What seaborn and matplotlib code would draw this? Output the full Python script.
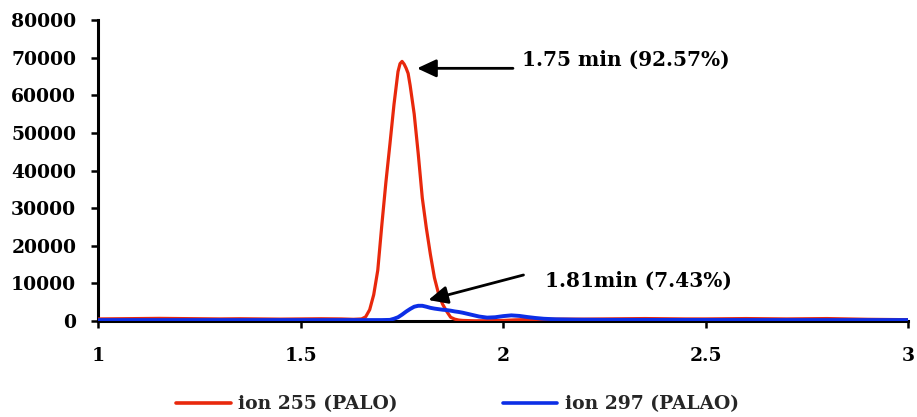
import matplotlib
matplotlib.use("Agg")
import matplotlib.pyplot as plt
import pandas as pd
import seaborn as sns

# Retention time (min) and abundance for the two monitored ions
time_255 = [1.00, 1.05, 1.10, 1.15, 1.20, 1.25, 1.30, 1.35, 1.40, 1.45, 1.50, 1.55, 1.60,
            1.63, 1.65, 1.66, 1.67, 1.68, 1.69, 1.70, 1.71, 1.72, 1.73, 1.74, 1.745, 1.75,
            1.755, 1.76, 1.765, 1.77, 1.78, 1.79, 1.80, 1.81, 1.82, 1.83, 1.84, 1.85, 1.86,
            1.87, 1.88, 1.89, 1.90, 1.93, 1.96, 2.00, 2.03, 2.06, 2.10, 2.15, 2.20, 2.25,
            2.30, 2.35, 2.40, 2.45, 2.50, 2.55, 2.60, 2.65, 2.70, 2.75, 2.80, 2.85, 2.90,
            2.95, 3.00]
ion_255 = [550, 600, 650, 700, 650, 600, 550, 600, 550, 500, 550, 600, 550,
           450, 550, 1100, 3000, 7000, 13500, 25500, 36800, 47000, 57500, 66300, 68400, 69000,
           68300, 67200, 65800, 62600, 55000, 44400, 32700, 24700, 17700, 11500, 7300, 4500, 2600,
           1000, 500, 250, 150, 50, 80, 150, 300, 400, 450, 500, 500, 550,
           600, 650, 600, 550, 550, 600, 650, 600, 550, 600, 650, 550, 450,
           400, 350]

time_297 = [1.00, 1.10, 1.20, 1.30, 1.40, 1.50, 1.60, 1.70, 1.72, 1.73, 1.74, 1.75, 1.76,
            1.77, 1.78, 1.79, 1.80, 1.81, 1.82, 1.83, 1.84, 1.85, 1.86, 1.87, 1.88, 1.89,
            1.90, 1.92, 1.94, 1.96, 1.98, 2.00, 2.02, 2.04, 2.06, 2.08, 2.10, 2.13, 2.18,
            2.25, 2.40, 2.60, 2.80, 3.00]
ion_297 = [250, 250, 250, 250, 250, 250, 250, 250, 300, 600, 1000, 1700, 2500,
           3200, 3800, 4050, 4050, 3800, 3500, 3300, 3150, 3000, 2900, 2750, 2550, 2400,
           2200, 1700, 1200, 900, 1000, 1300, 1500, 1350, 1050, 800, 600, 450, 350,
           300, 280, 260, 250, 250]

series_names = ["ion 255 (PALO)", "ion 297 (PALAO)"]
series_colors = ["#E8280C", "#0C2EE6"]
x_ticks = [1, 1.5, 2, 2.5, 3]
x_tick_labels = ["1", "1.5", "2", "2.5", "3"]
y_ticks = [0, 10000, 20000, 30000, 40000, 50000, 60000, 70000, 80000]

# Peak annotations: label, arrow tip (time, abundance), arrow tail, label anchor
peak_labels = ["1.75 min (92.57%)", "1.81min (7.43%)"]
arrow_tips = [(1.787, 67160), (1.815, 5580)]
arrow_tails = [(2.024, 67160), (2.050, 12230)]
label_anchors = [(2.046, 67800), (2.103, 9150)]

sns.set_style("ticks")
plt.rcParams["font.family"] = ["DejaVu Serif"]
plt.rcParams["font.weight"] = "bold"

df = pd.concat([
    pd.DataFrame({"time": time_255, "abundance": ion_255, "ion": series_names[0]}),
    pd.DataFrame({"time": time_297, "abundance": ion_297, "ion": series_names[1]}),
], ignore_index=True)

fig = plt.figure(figsize=(9.17, 4.17), dpi=100)
ax = fig.add_axes([0.1074, 0.2302, 0.8828, 0.7218])

sns.lineplot(data=df, x="time", y="abundance", hue="ion", hue_order=series_names,
             palette=dict(zip(series_names, series_colors)), estimator=None,
             linewidth=2.2, ax=ax)
for line, lw in zip(ax.lines, [2.3, 2.8]):
    line.set_linewidth(lw)
    line.set_zorder(3)
    line.set_solid_capstyle("round")

ax.set_xlim(1, 3)
ax.set_ylim(0, 80000)
ax.set_xticks(x_ticks)
ax.set_xticklabels(x_tick_labels)
ax.set_yticks(y_ticks)
ax.set_yticklabels([str(v) for v in y_ticks])
ax.set_xlabel("")
ax.set_ylabel("")

for side in ["top", "right"]:
    ax.spines[side].set_visible(False)
for side in ["left", "bottom"]:
    ax.spines[side].set_linewidth(2.2)
    ax.spines[side].set_color("black")
ax.tick_params(axis="both", colors="black", width=1.8, length=5, labelsize=13.5)
ax.tick_params(axis="y", pad=11)
ax.tick_params(axis="x", pad=14)
for lbl in ax.get_xticklabels() + ax.get_yticklabels():
    lbl.set_fontweight("bold")

for label, tip, tail, anchor in zip(peak_labels, arrow_tips, arrow_tails, label_anchors):
    ax.annotate("", xy=tip, xytext=tail,
                arrowprops=dict(arrowstyle="-|>,head_length=0.58,head_width=0.27",
                                lw=2, color="black", shrinkA=0, shrinkB=0,
                                mutation_scale=20))
    ax.text(anchor[0], anchor[1], label, ha="left", va="baseline",
            fontsize=14.5, fontweight="bold", color="black")

handles, labels = ax.get_legend_handles_labels()
if ax.get_legend() is not None:
    ax.get_legend().remove()
leg = fig.legend(handles, labels, loc="center", bbox_to_anchor=(0.499, 0.031),
                 ncol=2, frameon=False, fontsize=13.5, handlelength=2.9,
                 handletextpad=0.4, columnspacing=5.6, borderaxespad=0)
for t in leg.get_texts():
    t.set_fontweight("bold")
for h in leg.legend_handles:
    h.set_linewidth(2.6)

fig.savefig("out.png", dpi=100)
